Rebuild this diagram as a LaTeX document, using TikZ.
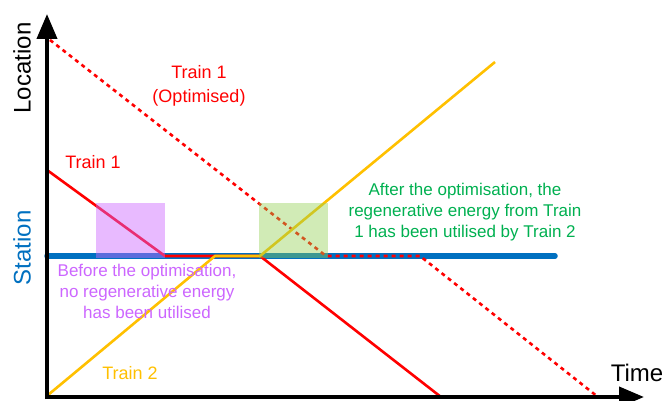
\documentclass[tikz,border=0pt]{standalone}
\usepackage{fontspec}
\setmainfont{Liberation Sans}
\usetikzlibrary{arrows.meta}
\definecolor{tred}{RGB}{255,0,0}
\definecolor{tyellow}{RGB}{255,192,0}
\definecolor{tblue}{RGB}{0,112,192}
\definecolor{tgreen}{RGB}{0,176,80}
\definecolor{tpurple}{RGB}{204,102,255}
\definecolor{tlgreen}{RGB}{146,208,80}
\tikzset{
  axis/.style={line width=4pt,-{Triangle[length=25pt,width=20pt]}},
  trainA/.style={tred,line width=2.6pt,line join=round},
  trainAopt/.style={tred,line width=2.6pt,dash pattern=on 4pt off 4pt},
  trainB/.style={tyellow,line width=2.6pt,line join=round},
  station/.style={tblue,line width=5.5pt,line cap=round},
  axlabel/.style={font=\fontsize{24}{28}\selectfont,inner sep=0pt},
  trlabel/.style={font=\fontsize{18}{24}\selectfont,inner sep=0pt,align=center},
  note/.style={font=\fontsize{17}{21}\selectfont,inner sep=0pt,align=center},
}
\begin{document}
\begin{tikzpicture}[x=1pt,y=-1pt]
\useasboundingbox (0,0) rectangle (666,401);
% coordinates
\coordinate (O) at (47,397);
\coordinate (ytop) at (47,14);
\coordinate (ybot) at (47,399);
\coordinate (xl) at (45,397);
\coordinate (xr) at (644,397);
\coordinate (s0) at (47,256);
\coordinate (s1) at (555,256);
% Train 1
\coordinate (a0) at (47,170);
\coordinate (a1) at (165,256);
\coordinate (a2) at (260,256);
\coordinate (a3) at (441,397);
% Train 1 optimised
\coordinate (b0) at (50,40);
\coordinate (b1) at (326,256);
\coordinate (b2) at (420,256);
\coordinate (b3) at (598,397);
% Train 2
\coordinate (c0) at (48,395);
\coordinate (c1) at (215,256);
\coordinate (c2) at (260,256);
\coordinate (c3) at (495,62);

\draw[station] (s0) -- (s1);
\draw[trainA] (a0) -- (a1) -- (a2) -- (a3);
\draw[trainAopt] (b0) -- (b1) -- (b2) -- (b3);
\draw[trainB] (c0) -- (c1) -- (c2) -- (c3);

\fill[tpurple,opacity=0.45] (96,203) rectangle (165,258);
\fill[tlgreen,opacity=0.42] (259,203) rectangle (328,258);

\draw[axis] (ybot) -- (ytop);
\draw[axis] (xl) -- (xr);

\node[axlabel,rotate=90] (loc) at (22,68) {Location};
\node[axlabel,rotate=90,text=tblue] (sta) at (22,248) {Station};
\node[axlabel] (time) at (637,373) {Time};

\node[trlabel,text=tred] (t1o) at (199,86) {Train 1\\(Optimised)};
\node[trlabel,text=tred] (t1) at (93,162) {Train 1};
\node[trlabel,text=tyellow] (t2) at (130,373) {Train 2};

\node[note,text=tpurple] (before) at (147,291) {Before the optimisation,\\no regenerative energy\\has been utilised};
\node[note,text=tgreen] (after) at (465,212) {After the optimisation, the\\regenerative energy from Train\\1 has been utilised by Train 2};
\end{tikzpicture}
\end{document}
